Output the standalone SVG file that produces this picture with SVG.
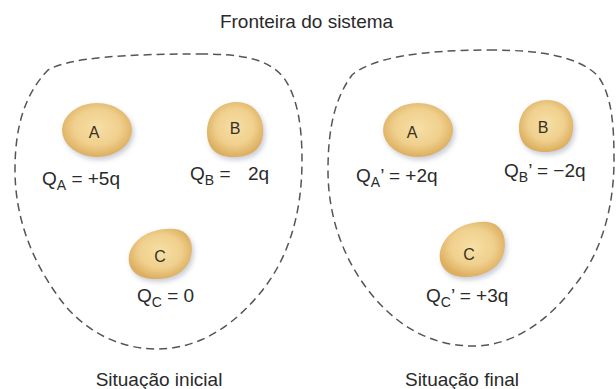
<svg xmlns="http://www.w3.org/2000/svg" width="616" height="389" viewBox="0 0 616 389">
<defs>
<radialGradient id="gold" cx="50%" cy="45%" r="55%">
<stop offset="0%" stop-color="#f6dfa6"/>
<stop offset="60%" stop-color="#f0d08e"/>
<stop offset="100%" stop-color="#dcae5e"/>
</radialGradient>
<filter id="sh" x="-30%" y="-30%" width="160%" height="170%">
<feDropShadow dx="2" dy="3" stdDeviation="2.5" flood-color="#8a93a8" flood-opacity="0.45"/>
</filter>
</defs>
<style>
text{font-family:"Liberation Sans",Arial,sans-serif;fill:#2a2a2a}
.t{font-size:19px;text-anchor:middle}
.q{font-size:19px}
.s{font-size:14px}
.l{font-size:16px;text-anchor:middle;fill:#3a3020}
.blob{fill:url(#gold);filter:url(#sh)}
.bd{fill:none;stroke:#555;stroke-width:1.5;stroke-dasharray:8 5}
</style>
<rect width="616" height="389" fill="#fff"/>
<text class="t" x="306.5" y="28">Fronteira do sistema</text>
<g id="boundaries">
<path id="boundary-left" class="bd" d="M200,54 C240,54 268,58 284,78 C298,98 302,128 302,160 C302,215 288,262 256,298 C228,330 195,349 157,349 C118,349 80,330 55,292 C30,256 15,215 15,170 C15,128 24,95 48,70 C70,57 130,54 200,54 Z"/>
<path id="boundary-right" class="bd" d="M489,50 C540,50 578,56 598,76 C612,96 614,125 614,160 C614,210 600,255 575,285 C548,322 512,346 473,346 C430,346 395,325 368,290 C342,256 328,215 328,170 C328,128 335,98 352,75 C372,58 420,50 489,50 Z"/>
</g>
<g id="node-A-initial">
<ellipse class="blob" cx="97" cy="130" rx="35" ry="27"/>
<text class="l" x="94" y="138">A</text>
</g>
<g id="node-B-initial">
<path class="blob" d="M235,102 C255,101 265,118 263,135 C261,152 248,157 233,157 C215,157 207,147 207,132 C207,115 218,103 235,102 Z"/>
<text class="l" x="235" y="134">B</text>
</g>
<g id="node-C-initial">
<path class="blob" d="M175,229 C190,231 195,245 190,260 C184,274 170,280 152,279 C135,278 127,268 129,255 C132,240 150,227 175,229 Z"/>
<text class="l" x="160" y="262">C</text>
</g>
<g id="node-A-final">
<ellipse class="blob" cx="418" cy="130" rx="35" ry="27"/>
<text class="l" x="412" y="138">A</text>
</g>
<g id="node-B-final">
<path class="blob" d="M547,100 C566,100 575,115 573,130 C571,146 560,152 545,152 C528,152 519,143 519,128 C519,112 530,100 547,100 Z"/>
<text class="l" x="543" y="133">B</text>
</g>
<g id="node-C-final">
<path class="blob" d="M488,222 C503,224 508,240 503,256 C497,270 482,277 465,277 C447,277 438,266 440,252 C443,235 463,220 488,222 Z"/>
<text class="l" x="469" y="260">C</text>
</g>
<g id="labels">
<text class="q" x="42" y="185">Q<tspan class="s" dy="5">A</tspan><tspan dy="-5"> = +5q</tspan></text>
<text class="q" x="190" y="180">Q<tspan class="s" dy="5">B</tspan><tspan dy="-5"> =</tspan><tspan x="248">2q</tspan></text>
<text class="q" x="137" y="302">Q<tspan class="s" dy="5">C</tspan><tspan dy="-5"> = 0</tspan></text>
<text class="q" x="356" y="182">Q<tspan class="s" dy="5">A</tspan><tspan dy="-5">’ = +2q</tspan></text>
<text class="q" x="504" y="177">Q<tspan class="s" dy="5">B</tspan><tspan dy="-5">’ = −2q</tspan></text>
<text class="q" x="426" y="302">Q<tspan class="s" dy="5">C</tspan><tspan dy="-5">’ = +3q</tspan></text>
<text class="t" x="159" y="386">Situação inicial</text>
<text class="t" x="462" y="386">Situação final</text>
</g>
</svg>
